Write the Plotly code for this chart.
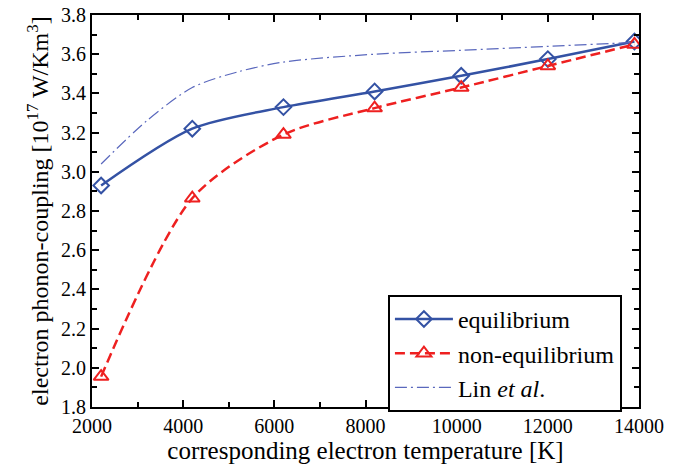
import plotly.graph_objects as go

temps = [2200, 4200, 6200, 8200, 10100, 12000, 13900]
equilibrium = [2.93, 3.22, 3.33, 3.41, 3.49, 3.575, 3.665]
non_equilibrium = [1.955, 2.865, 3.19, 3.325, 3.43, 3.54, 3.65]
lin_temps = [2200, 3200, 4200, 5200, 6200, 8200, 10100, 12000, 13900]
lin_vals = [3.04, 3.26, 3.43, 3.51, 3.56, 3.60, 3.62, 3.64, 3.66]

blue = "#3452a4"
red = "#ee2020"
lin_blue = "#5a68bd"
font = "'Liberation Serif', 'DejaVu Serif', serif"

fig = go.Figure()
fig.add_trace(go.Scatter(
    x=temps, y=equilibrium, name="equilibrium", mode="lines+markers",
    line=dict(color=blue, width=2.5, shape="spline", smoothing=0.8),
    marker=dict(symbol="diamond-open", size=12, color=blue, line=dict(width=2, color=blue)),
))
fig.add_trace(go.Scatter(
    x=temps, y=non_equilibrium, name="non-equilibrium", mode="lines+markers",
    line=dict(color=red, width=2.5, dash="10px,5px", shape="spline", smoothing=0.8),
    marker=dict(symbol="triangle-up-open", size=13, color=red, line=dict(width=2, color=red)),
))
fig.add_trace(go.Scatter(
    x=lin_temps, y=lin_vals, name="Lin <i>et al</i>.", mode="lines",
    line=dict(color=lin_blue, width=1.2, dash="12px,4px,2px,4px", shape="spline", smoothing=0.8),
))

axis_common = dict(
    showline=True, linewidth=2, linecolor="black", mirror="allticks",
    ticks="inside", ticklen=7, tickwidth=2, tickcolor="black",
    showgrid=False, zeroline=False, automargin=False, ticklabeloverflow="allow",
    tickfont=dict(family=font, size=20, color="black"),
)

fig.update_xaxes(
    range=[2000, 14000], dtick=2000, tick0=2000, tickformat="d",
    minor=dict(ticks="inside", ticklen=5, tickwidth=2, tickcolor="black", dtick=1000, showgrid=False),
    title=dict(text="corresponding electron temperature [K]", font=dict(family=font, size=25, color="black"), standoff=4),
    **axis_common,
)
fig.update_yaxes(
    range=[1.8, 3.8], dtick=0.2, tick0=1.8, tickformat=".1f",
    minor=dict(ticks="inside", ticklen=5, tickwidth=2, tickcolor="black", dtick=0.1, showgrid=False),
    title=dict(text="electron phonon-coupling [10<sup>17</sup> W/Km<sup>3</sup>]", font=dict(family=font, size=24, color="black"), standoff=6),
    **axis_common,
)

fig.update_layout(
    width=679, height=470,
    margin=dict(l=84, r=48, t=7, b=71),
    plot_bgcolor="white", paper_bgcolor="white",
    font=dict(family=font, color="black"),
    legend=dict(
        x=0.541, y=0.286, xanchor="left", yanchor="top",
        bgcolor="white", bordercolor="black", borderwidth=2,
        font=dict(family=font, size=24, color="black"),
        tracegroupgap=0, itemwidth=58,
    ),
)

fig.write_html("out.html")
